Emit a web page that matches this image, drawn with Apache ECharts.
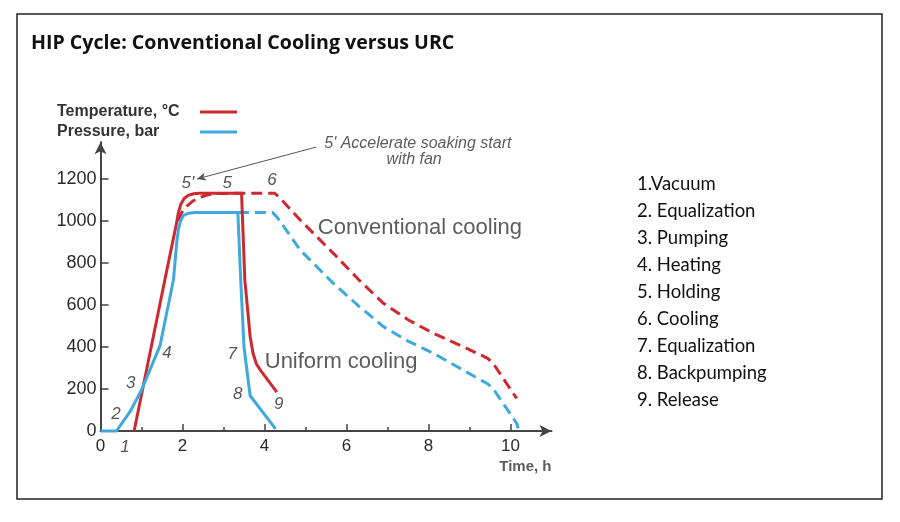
<!DOCTYPE html>
<html>
<head>
<meta charset="utf-8">
<script src="https://cdn.jsdelivr.net/npm/echarts@6/dist/echarts.min.js"></script>
<style>
html,body{margin:0;padding:0;background:#fff;}
#c{width:900px;height:522px;}
</style>
</head>
<body>
<div id="c"></div>
<script>
// ---- data (time in h, value in °C or bar) ----
var tempSolid = [[0.82,0],[1.57,720],[1.85,985],[1.9,1040],[1.96,1080],[2.04,1107],[2.14,1122],[2.27,1130],[2.4,1132],[3.44,1132],[3.52,720],[3.65,450],[3.72,370],[3.8,320],[3.9,290],[4.3,185]];
var tempDashed = [[1.9,1000],[1.98,1040],[2.1,1070],[2.25,1095],[2.43,1113],[2.6,1124],[2.8,1131],[3.44,1132],[4.25,1132],[4.35,1115],[4.87,1005],[5.68,846],[6.3,720],[6.9,608],[7.5,530],[8.12,465],[8.8,405],[9.3,360],[9.45,345],[9.6,315],[10.15,155]];
var presSolid = [[0,0],[0.39,0],[0.72,92],[1.0,195],[1.45,405],[1.78,720],[1.86,900],[1.9,960],[1.95,1000],[2.02,1025],[2.12,1036],[2.3,1040],[3.35,1040],[3.42,720],[3.5,400],[3.65,168],[4.27,10]];
var presDashed = [[3.35,1040],[4.2,1040],[4.32,1015],[4.87,862],[5.68,703],[6.3,595],[6.9,497],[7.5,428],[8.12,370],[8.8,295],[9.3,240],[9.45,224],[9.6,195],[10.15,37],[10.2,5]];

var yTickLabels = [0,200,400,600,800,1000,1200];
var xTickLabels = [0,2,4,6,8,10];
var xMajorTicks = [2,4,6,8,10];
var xMinorTicks = [1,3,5,7,9];

var stepLabels = [[2.13,1181,"5'"],[3.09,1181,'5'],[4.18,1195,'6'],[0.6,-76,'1'],[0.38,81,'2'],[0.74,229,'3'],[1.62,371,'4'],[3.21,367,'7'],[3.35,176,'8'],[4.35,129,'9']];
var curveLabels = [[7.79,967,'Conventional cooling'],[5.87,329,'Uniform cooling']];
var noteLabels = [[7.74,1369,"5' Accelerate soaking start"],[7.65,1292,'with fan']];
var noteArrow = [[5.26,1352],[2.35,1200]];
var axisName = [[11,-173,'Time, h']];

var phases = ['1.Vacuum','2. Equalization','3. Pumping','4. Heating','5. Holding','6. Cooling','7. Equalization','8. Backpumping','9. Release'];

var RED = '#cc2a30', BLUE = '#3fa9dd';
var chart = echarts.init(document.getElementById('c'));

function lineSeries(name, data, color, dashed, z){
  return {
    name: name, type: 'line', data: data, showSymbol: false, symbol: 'none',
    smooth: false, z: z, silent: true, clip: false,
    lineStyle: {color: color, width: 3, type: dashed ? [11,6] : 'solid', join: 'round', cap: 'butt'},
    itemStyle: {color: color}
  };
}
function textSeries(data, style, z){
  return {
    type: 'scatter', data: data, symbolSize: 0, clip: false, silent: true, z: z || 5,
    label: Object.assign({show: true, position: 'inside', formatter: function(p){return p.data[2];}}, style)
  };
}

chart.setOption({
  animation: false,
  backgroundColor: '#fff',
  title: [
    {text: 'HIP Cycle: Conventional Cooling versus URC', left: 31, top: 33, padding: 0,
     textStyle: {fontFamily: 'Open Sans', fontWeight: 'bold', fontSize: 19.6, color: '#111'}},
    {text: phases.join('\n'), left: 637, top: 171, padding: 0,
     textStyle: {fontFamily: 'Lato', fontWeight: 'normal', fontSize: 18.5, lineHeight: 27, color: '#111'}}
  ],
  graphic: [{type: 'rect', shape: {x: 17, y: 14, width: 865, height: 485},
             style: {fill: 'none', stroke: '#222', lineWidth: 1.5}, silent: true}],
  legend: {
    orient: 'vertical', left: 52, top: 99, align: 'right', itemGap: 4,
    itemWidth: 37, itemHeight: 3, icon: 'rect', selectedMode: false,
    data: ['Temperature, °C', 'Pressure, bar'],
    formatter: function(n){ return '{a|' + n + '}'; },
    textStyle: {fontFamily: 'Liberation Sans', fontWeight: 'bold', fontSize: 16, color: '#333',
      rich: {a: {width: 138, align: 'left', fontFamily: 'Liberation Sans', fontWeight: 'bold', fontSize: 16, color: '#333'}}}
  },
  grid: {left: 100.5, right: 348.5, top: 142.25, bottom: 91},
  xAxis: [{
    type: 'value', min: 0, max: 11,
    axisLine: {show: true, onZero: false, symbol: ['none','arrow'], symbolSize: [9,12], symbolOffset: [0,0],
               lineStyle: {color: '#444', width: 2}},
    axisTick: {show: true, inside: true, length: 7, customValues: xMajorTicks, lineStyle: {color: '#444', width: 1.5}},
    axisLabel: {customValues: xTickLabels, fontFamily: 'Liberation Sans', fontSize: 17, color: '#2a2a2a', margin: 7},
    splitLine: {show: false}
  },{
    type: 'value', min: 0, max: 11, position: 'bottom',
    axisLine: {show: false},
    axisTick: {show: true, inside: true, length: 4, customValues: xMinorTicks, lineStyle: {color: '#444', width: 1.5}},
    axisLabel: {show: false}, splitLine: {show: false}
  }],
  yAxis: {
    type: 'value', min: 0, max: 1375,
    axisLine: {show: true, onZero: false, symbol: ['none','arrow'], symbolSize: [9,12], symbolOffset: [0,0],
               lineStyle: {color: '#444', width: 2}},
    axisTick: {show: true, inside: true, length: 8, customValues: yTickLabels, lineStyle: {color: '#444', width: 1.5}},
    axisLabel: {customValues: yTickLabels, formatter: function(v){ return String(v); },
      fontFamily: 'Liberation Sans', fontSize: 18, color: '#2a2a2a', margin: 4},
    splitLine: {show: false}
  },
  series: [
    lineSeries('Temperature, °C', tempSolid, RED, false, 4),
    lineSeries('Pressure, bar', presSolid, BLUE, false, 4),
    lineSeries('Temperature, °C', tempDashed, RED, true, 3),
    lineSeries('Pressure, bar', presDashed, BLUE, true, 3),
    textSeries(stepLabels, {fontFamily: 'Liberation Sans', fontStyle: 'italic', fontSize: 17, color: '#2a2a2a'}),
    textSeries(curveLabels, {fontFamily: 'Liberation Sans', fontSize: 22, color: '#333'}),
    textSeries(noteLabels, {fontFamily: 'Liberation Sans', fontStyle: 'italic', fontSize: 16, color: '#333'}),
    textSeries(axisName, {fontFamily: 'Liberation Sans', fontWeight: 'bold', fontSize: 15, color: '#333', position: 'left', distance: 0}),
    {
      type: 'line', data: [], silent: true, z: 6,
      markLine: {silent: true, symbol: ['none','arrow'], symbolSize: [6,9], animation: false,
        label: {show: false}, lineStyle: {color: '#555', width: 1, type: 'solid'},
        data: [[{coord: noteArrow[0]}, {coord: noteArrow[1]}]]}
    }
  ]
});
</script>
</body>
</html>
